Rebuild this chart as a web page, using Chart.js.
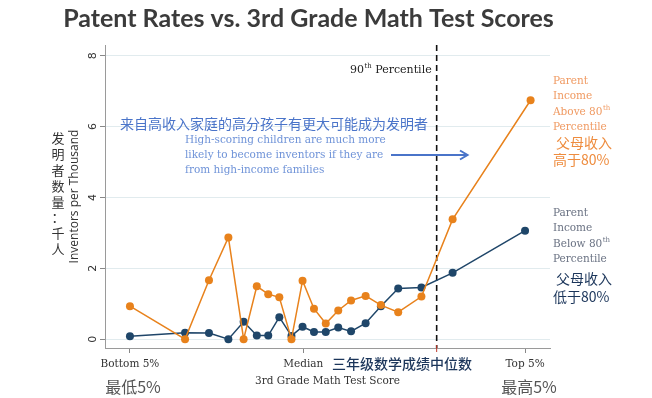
<!DOCTYPE html>
<html>
<head>
<meta charset="utf-8">
<script src="https://cdn.jsdelivr.net/npm/chart.js@4.4.1/dist/chart.umd.min.js"></script>
<style>
  html, body { margin: 0; padding: 0; background: #fff; }
  #wrap { width: 652px; height: 398px; position: relative; }
</style>
</head>
<body>
<div id="wrap"><canvas id="patentChart"></canvas></div>
<script>
// Test score position (0 = bottom 5%, 50 = median, 114 = top 5%)
const scoreBelow = [0, 15.9, 22.8, 28.4, 32.8, 36.6, 39.9, 43.1, 46.6, 49.8, 53.1, 56.5, 60.1, 63.8, 68.0, 72.4, 77.4, 84.1, 93.1, 114];
const scoreAbove = [0, 15.9, 22.8, 28.4, 32.8, 36.6, 39.9, 43.1, 46.6, 49.8, 53.1, 56.5, 60.1, 63.8, 68.0, 72.4, 77.4, 84.1, 93.1, 115.6];
// inventors per thousand
const belowVals = [0.08, 0.18, 0.17, 0, 0.49, 0.1, 0.1, 0.62, 0.09, 0.35, 0.2, 0.2, 0.33, 0.22, 0.45, 0.93, 1.43, 1.46, 1.87, 3.06];
const aboveVals = [0.93, 0, 1.66, 2.87, 0, 1.49, 1.27, 1.18, 0, 1.65, 0.86, 0.44, 0.81, 1.09, 1.22, 0.96, 0.76, 1.2, 3.38, 6.74];

const xTickVals   = [0, 50, 114];
const xTickLabels = ['Bottom 5%', 'Median', 'Top 5%'];
const xTickZh     = ['最低5%', '三年级数学成绩中位数', '最高5%'];
const yTickVals   = [0, 2, 4, 6, 8];
const p90 = 88.5;

const ORANGE = '#E8821C';
const NAVY   = '#1F4669';
const SERIF  = '"DejaVu Serif", serif';
const CJK    = '"Noto Sans CJK SC", sans-serif';

function txt(ctx, s, x, y, font, color, align) {
  ctx.font = font;
  ctx.fillStyle = color;
  ctx.textAlign = align || 'left';
  ctx.textBaseline = 'middle';
  ctx.fillText(s, x, y);
}

// "Above 80" + superscript "th"
function supLine(ctx, s, sup, x, y, size, color) {
  txt(ctx, s, x, y, size + 'px ' + SERIF, color);
  const w = ctx.measureText(s).width;
  txt(ctx, sup, x + w + 0.5, y - size * 0.35, Math.round(size * 0.65) + 'px ' + SERIF, color);
}

const overlay = {
  id: 'overlay',
  beforeDatasetsDraw(chart) {
    const { ctx, chartArea: a, scales: { x } } = chart;
    const px = x.getPixelForValue(p90);
    ctx.save();
    ctx.strokeStyle = '#111';
    ctx.lineWidth = 1.6;
    ctx.setLineDash([6, 4]);
    ctx.beginPath();
    ctx.moveTo(px, a.top);
    ctx.lineTo(px, a.bottom);
    ctx.stroke();
    ctx.setLineDash([]);
    ctx.strokeStyle = '#c0392b';
    ctx.lineWidth = 1;
    ctx.beginPath();
    ctx.moveTo(px, a.bottom - 3);
    ctx.lineTo(px, a.bottom + 4);
    ctx.stroke();
    ctx.restore();
  },
  afterDraw(chart) {
    const { ctx, scales: { x } } = chart;
    ctx.save();

    // title
    txt(ctx, 'Patent Rates vs. 3rd Grade Math Test Scores', 308.5, 18.5, 'bold 25px Lato', '#3b3b3b', 'center');

    // 90th percentile label
    ctx.font = '11px ' + SERIF;
    const wP = ctx.measureText(' Percentile').width;
    ctx.font = '7px ' + SERIF;
    const wT = ctx.measureText('th').width;
    const px = x.getPixelForValue(p90) - 5;
    txt(ctx, ' Percentile', px, 70, '11px ' + SERIF, '#222', 'right');
    txt(ctx, 'th', px - wP, 66, '7px ' + SERIF, '#222', 'right');
    txt(ctx, '90', px - wP - wT - 0.5, 70, '11px ' + SERIF, '#222', 'right');

    // annotation
    txt(ctx, '来自高收入家庭的高分孩子有更大可能成为发明者', 120, 124, '14px ' + CJK, '#4A74C9');
    const note = ['High-scoring children are much more', 'likely to become inventors if they are', 'from high-income families'];
    note.forEach((s, i) => txt(ctx, s, 185, 140 + i * 15.3, '10.5px ' + SERIF, '#6F93D8'));
    ctx.strokeStyle = '#4A74C9';
    ctx.lineWidth = 2;
    ctx.beginPath();
    ctx.moveTo(391, 155); ctx.lineTo(467, 155);
    ctx.moveTo(460, 150.5); ctx.lineTo(467.5, 155); ctx.lineTo(460, 159.5);
    ctx.stroke();

    // series labels on the right
    const lx = 553;
    txt(ctx, 'Parent', lx, 81, '10.5px ' + SERIF, '#F09A62');
    txt(ctx, 'Income', lx, 96.5, '10.5px ' + SERIF, '#F09A62');
    supLine(ctx, 'Above 80', 'th', lx, 112, 10.5, '#F09A62');
    txt(ctx, 'Percentile', lx, 127.5, '10.5px ' + SERIF, '#F09A62');
    txt(ctx, '父母收入', lx + 3, 142.5, '14px ' + CJK, '#EE8C3E');
    txt(ctx, '高于80%', lx, 160, '14px ' + CJK, '#EE8C3E');

    txt(ctx, 'Parent', lx, 213, '10.5px ' + SERIF, '#6A7283');
    txt(ctx, 'Income', lx, 228.5, '10.5px ' + SERIF, '#6A7283');
    supLine(ctx, 'Below 80', 'th', lx, 244, 10.5, '#6A7283');
    txt(ctx, 'Percentile', lx, 259, '10.5px ' + SERIF, '#6A7283');
    txt(ctx, '父母收入', lx + 3, 279, '14px ' + CJK, '#1B355A');
    txt(ctx, '低于80%', lx, 297, '14px ' + CJK, '#1B355A');

    // Chinese x tick labels
    txt(ctx, xTickZh[0], x.getPixelForValue(xTickVals[0]) + 3, 386.5, '16px ' + CJK, '#555', 'center');
    txt(ctx, xTickZh[1], 332, 364, '500 14px ' + CJK, '#1B355A');
    txt(ctx, xTickZh[2], x.getPixelForValue(xTickVals[2]) + 4, 386.5, '16px ' + CJK, '#555', 'center');

    // vertical Chinese y-axis label
    Array.from('发明者数量：千人').forEach((c, i) =>
      txt(ctx, c, 58, 138 + i * 15.9, '13px ' + CJK, '#333', 'center'));

    ctx.restore();
  }
};

new Chart(document.getElementById('patentChart'), {
  type: 'line',
  data: {
    datasets: [
      {
        label: 'Parent Income Above 80th Percentile',
        data: scoreAbove.map((v, i) => ({ x: v, y: aboveVals[i] })),
        borderColor: ORANGE, backgroundColor: ORANGE,
        borderWidth: 1.5, pointRadius: 4, pointBorderWidth: 0, tension: 0
      },
      {
        label: 'Parent Income Below 80th Percentile',
        data: scoreBelow.map((v, i) => ({ x: v, y: belowVals[i] })),
        borderColor: NAVY, backgroundColor: NAVY,
        borderWidth: 1.5, pointRadius: 4, pointBorderWidth: 0, tension: 0
      }
    ]
  },
  options: {
    responsive: true, maintainAspectRatio: false, animation: false,
    layout: { padding: { top: 45, right: 102, bottom: 0, left: 0 } },
    plugins: { legend: { display: false }, tooltip: { enabled: false }, title: { display: false } },
    scales: {
      x: {
        type: 'linear', min: -7.2, max: 121.2,
        afterBuildTicks: s => { s.ticks = xTickVals.map(v => ({ value: v })); },
        afterFit: s => { s.height = 50; },
        ticks: {
          autoSkip: false, maxRotation: 0, padding: 5,
          callback: v => xTickLabels[xTickVals.indexOf(v)],
          font: { family: 'DejaVu Serif', size: 10.5 }, color: '#333'
        },
        grid: { drawOnChartArea: false, tickLength: 5, color: '#888' },
        border: { color: '#9a9a9a' },
        title: {
          display: true, text: '3rd Grade Math Test Score',
          font: { family: 'DejaVu Serif', size: 10.5 }, color: '#333',
          padding: { top: 0, bottom: 10 }
        }
      },
      y: {
        min: -0.25, max: 8.3,
        afterBuildTicks: s => { s.ticks = yTickVals.map(v => ({ value: v })); },
        afterFit: s => { s.width = 105; },
        ticks: {
          minRotation: 90, maxRotation: 90, crossAlign: 'center', padding: 3,
          font: { family: 'DejaVu Sans', size: 11 }, color: '#333'
        },
        grid: { color: '#E1EBEE', tickColor: '#888', tickLength: 5 },
        border: { color: '#9a9a9a' },
        title: {
          display: true, text: 'Inventors per Thousand',
          font: { family: 'Open Sans', size: 12 }, color: '#333',
          padding: { top: 67, bottom: 0 }
        }
      }
    }
  },
  plugins: [overlay]
});
</script>
</body>
</html>
